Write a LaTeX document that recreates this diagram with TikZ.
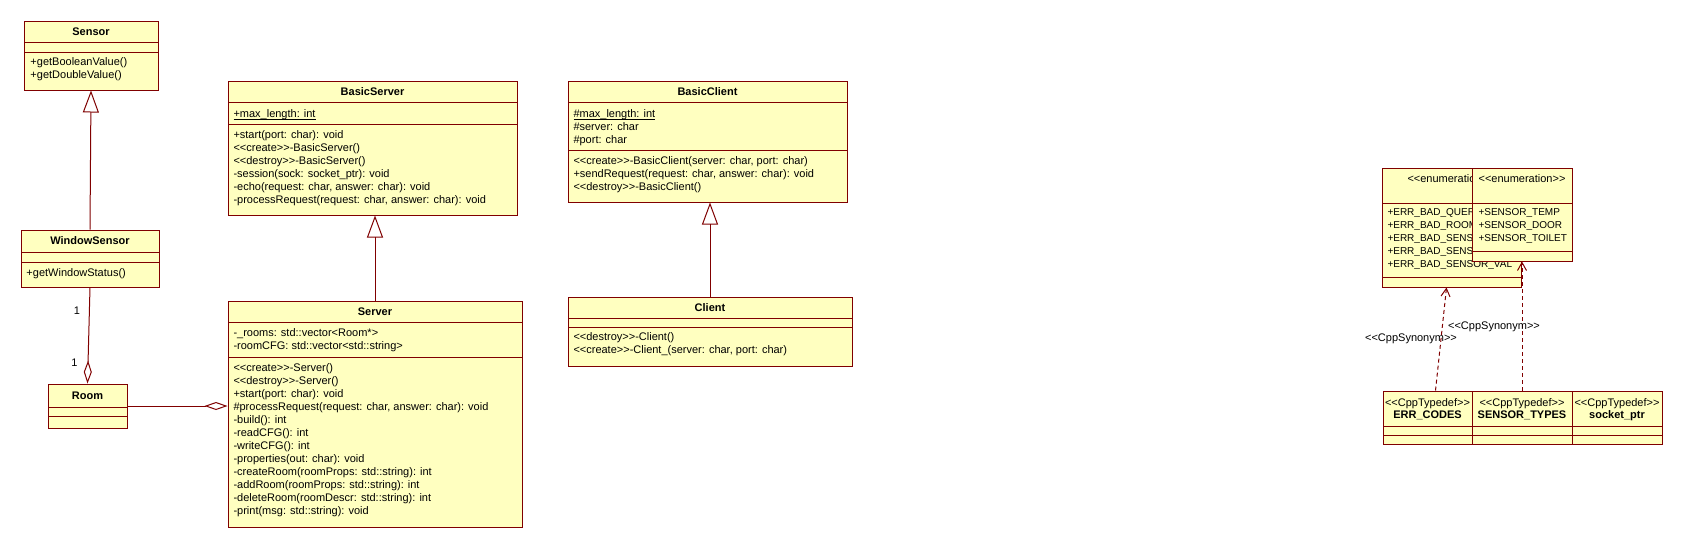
\documentclass[tikz,border=0pt]{standalone}
\usepackage{fontspec}
\setmainfont{Liberation Sans}
\usetikzlibrary{arrows.meta}
\definecolor{boxfill}{RGB}{255,255,192}
\definecolor{boxline}{RGB}{128,0,0}
\newcommand\stl{<\kern0pt<}
\newcommand\stg{>\kern0pt>}

\begin{document}
\begin{tikzpicture}[x=1pt,y=-1pt,line width=1pt,
  cls/.style={draw=boxline,fill=boxfill,inner sep=0pt},
  ttl/.style={font=\fontsize{11}{13}\selectfont\bfseries,inner sep=0pt},
  txt/.style={anchor=north west,inner sep=0pt,align=left,font=\fontsize{11}{13}\selectfont,execute at begin node=\strut},
  lit/.style={txt,font=\fontsize{10}{13}\selectfont},
  lbl/.style={font=\fontsize{11}{13}\selectfont,inner sep=0pt},
  gen/.style={draw=boxline,-{Triangle[open,length=22pt,width=16pt]}},
  agg/.style={draw=boxline,-{Diamond[open,length=23pt,width=8pt]}},
  syn/.style={draw=boxline,dash pattern=on 4pt off 3pt,-{Straight Barb[length=8pt,width=9pt]}}]
  \path[use as bounding box,fill=white] (0,0) rectangle (1682,547);

  % Sensor
  \node[cls,minimum width=134pt,minimum height=69pt] (sensor) at (91,55.5) {};
  \draw[boxline] (24,42) -- (158,42) (24,52) -- (158,52);
  \node[ttl] at (91,31.5) {Sensor};
  \node[txt] at (30,57) {+getBooleanValue()\\+getDoubleValue()};

  % WindowSensor
  \node[cls,minimum width=138pt,minimum height=57pt] (ws) at (90,258.5) {};
  \draw[boxline] (21,252) -- (159,252) (21,262) -- (159,262);
  \node[ttl] at (90,241) {WindowSensor};
  \node[txt] at (26,267) {+getWindowStatus()};

  % Room
  \node[cls,minimum width=79pt,minimum height=44pt] (room) at (87.5,406) {};
  \draw[boxline] (48,407) -- (127,407) (48,416) -- (127,416);
  \node[ttl] at (87.5,395.5) {Room};

  % BasicServer
  \node[cls,minimum width=289pt,minimum height=134pt] (bsrv) at (372.5,148) {};
  \draw[boxline] (228,102) -- (517,102) (228,124) -- (517,124);
  \node[ttl] at (372.5,91.5) {BasicServer};
  \node[txt] at (233,108) {\strut\underline{\smash{+max\_length: int}}};
  \node[txt] at (233,130) {+start(port: char): void\\
    \stl create\stg-BasicServer()\\
    \stl destroy\stg-BasicServer()\\
    -session(sock: socket\_ptr): void\\
    -echo(request: char, answer: char): void\\
    -processRequest(request: char, answer: char): void};

  % Server
  \node[cls,minimum width=294pt,minimum height=226pt] (srv) at (375,414) {};
  \draw[boxline] (228,322) -- (522,322) (228,357) -- (522,357);
  \node[ttl] at (375,311.5) {Server};
  \node[txt] at (233,328) {-\_rooms: std::vector<Room*>\\-roomCFG: std::vector<std::string>};
  \node[txt] at (233,363) {\stl create\stg-Server()\\
    \stl destroy\stg-Server()\\
    +start(port: char): void\\
    \#processRequest(request: char, answer: char): void\\
    -build(): int\\
    -readCFG(): int\\
    -writeCFG(): int\\
    -properties(out: char): void\\
    -createRoom(roomProps: std::string): int\\
    -addRoom(roomProps: std::string): int\\
    -deleteRoom(roomDescr: std::string): int\\
    -print(msg: std::string): void};

  % BasicClient
  \node[cls,minimum width=279pt,minimum height=121pt] (bcli) at (707.5,141.5) {};
  \draw[boxline] (568,102) -- (847,102) (568,150) -- (847,150);
  \node[ttl] at (707.5,91.5) {BasicClient};
  \node[txt] at (573,108) {\strut\underline{\smash{\#max\_length: int}}\\\#server: char\\\#port: char};
  \node[txt] at (573,156) {\stl create\stg-BasicClient(server: char, port: char)\\
    +sendRequest(request: char, answer: char): void\\
    \stl destroy\stg-BasicClient()};

  % Client
  \node[cls,minimum width=284pt,minimum height=69pt] (cli) at (710,331.5) {};
  \draw[boxline] (568,318) -- (852,318) (568,327) -- (852,327);
  \node[ttl] at (710,307.5) {Client};
  \node[txt] at (573,332.5) {\stl destroy\stg-Client()\\
    \stl create\stg-Client\_(server: char, port: char)};

  % enumerations
  \node[cls,minimum width=139pt,minimum height=119pt] (en1) at (1451.5,227.5) {};
  \draw[boxline] (1382,203) -- (1521,203) (1382,277) -- (1521,277);
  \node[lbl,anchor=west] at (1407,179) {\stl enumeratio};
  \node[lit] at (1387,208) {+ERR\_BAD\_QUER\\+ERR\_BAD\_ROOM\\+ERR\_BAD\_SENS\\+ERR\_BAD\_SENS\\+ERR\_BAD\_SENSOR\_VAL};
  \node[cls,minimum width=100pt,minimum height=93pt] (en2) at (1522,214.5) {};
  \draw[boxline] (1472,203) -- (1572,203) (1472,251) -- (1572,251);
  \node[lbl] at (1522,179) {\stl enumeration\stg};
  \node[lit] at (1478,208) {+SENSOR\_TEMP\\+SENSOR\_DOOR\\+SENSOR\_TOILET};

  % typedefs
  \node[cls,minimum width=89pt,minimum height=53pt] (td1) at (1427.5,417.5) {};
  \node[cls,minimum width=100pt,minimum height=53pt] (td2) at (1522,417.5) {};
  \node[cls,minimum width=90pt,minimum height=53pt] (td3) at (1617,417.5) {};
  \draw[boxline] (1383,426) -- (1662,426) (1383,435) -- (1662,435);
  \node[lbl,anchor=base] at (1427.5,406) {\stl CppTypedef\stg};
  \node[ttl,anchor=base] at (1427.5,418) {ERR\_CODES};
  \node[lbl,anchor=base] at (1522,406) {\stl CppTypedef\stg};
  \node[ttl,anchor=base] at (1522,418) {SENSOR\_TYPES};
  \node[lbl,anchor=base] at (1617,406) {\stl CppTypedef\stg};
  \node[ttl,anchor=base] at (1617,418) {socket\_ptr};

  % connectors
  \draw[gen] (ws.north) -- (sensor.south);
  \draw[agg] (ws.south) -- (room.north)
    node[lbl,pos=.24,left=9pt] {1}
    node[lbl,pos=.78,left=10pt] {1};
  \draw[agg] (room.east) -- (room.east -| srv.west);
  \draw[gen] (srv.north) -- (srv.north |- bsrv.south);
  \draw[gen] (cli.north) -- (cli.north |- bcli.south);
  \draw[syn] ([xshift=8pt]td1.north) -- ([xshift=-5pt]en1.south)
    node[lbl,pos=.5,xshift=-30pt] {\stl CppSynonym\stg};
  \draw[syn] (td2.north) -- (en2.south)
    node[lbl,pos=.49,xshift=-28pt] {\stl CppSynonym\stg};
\end{tikzpicture}
\end{document}
